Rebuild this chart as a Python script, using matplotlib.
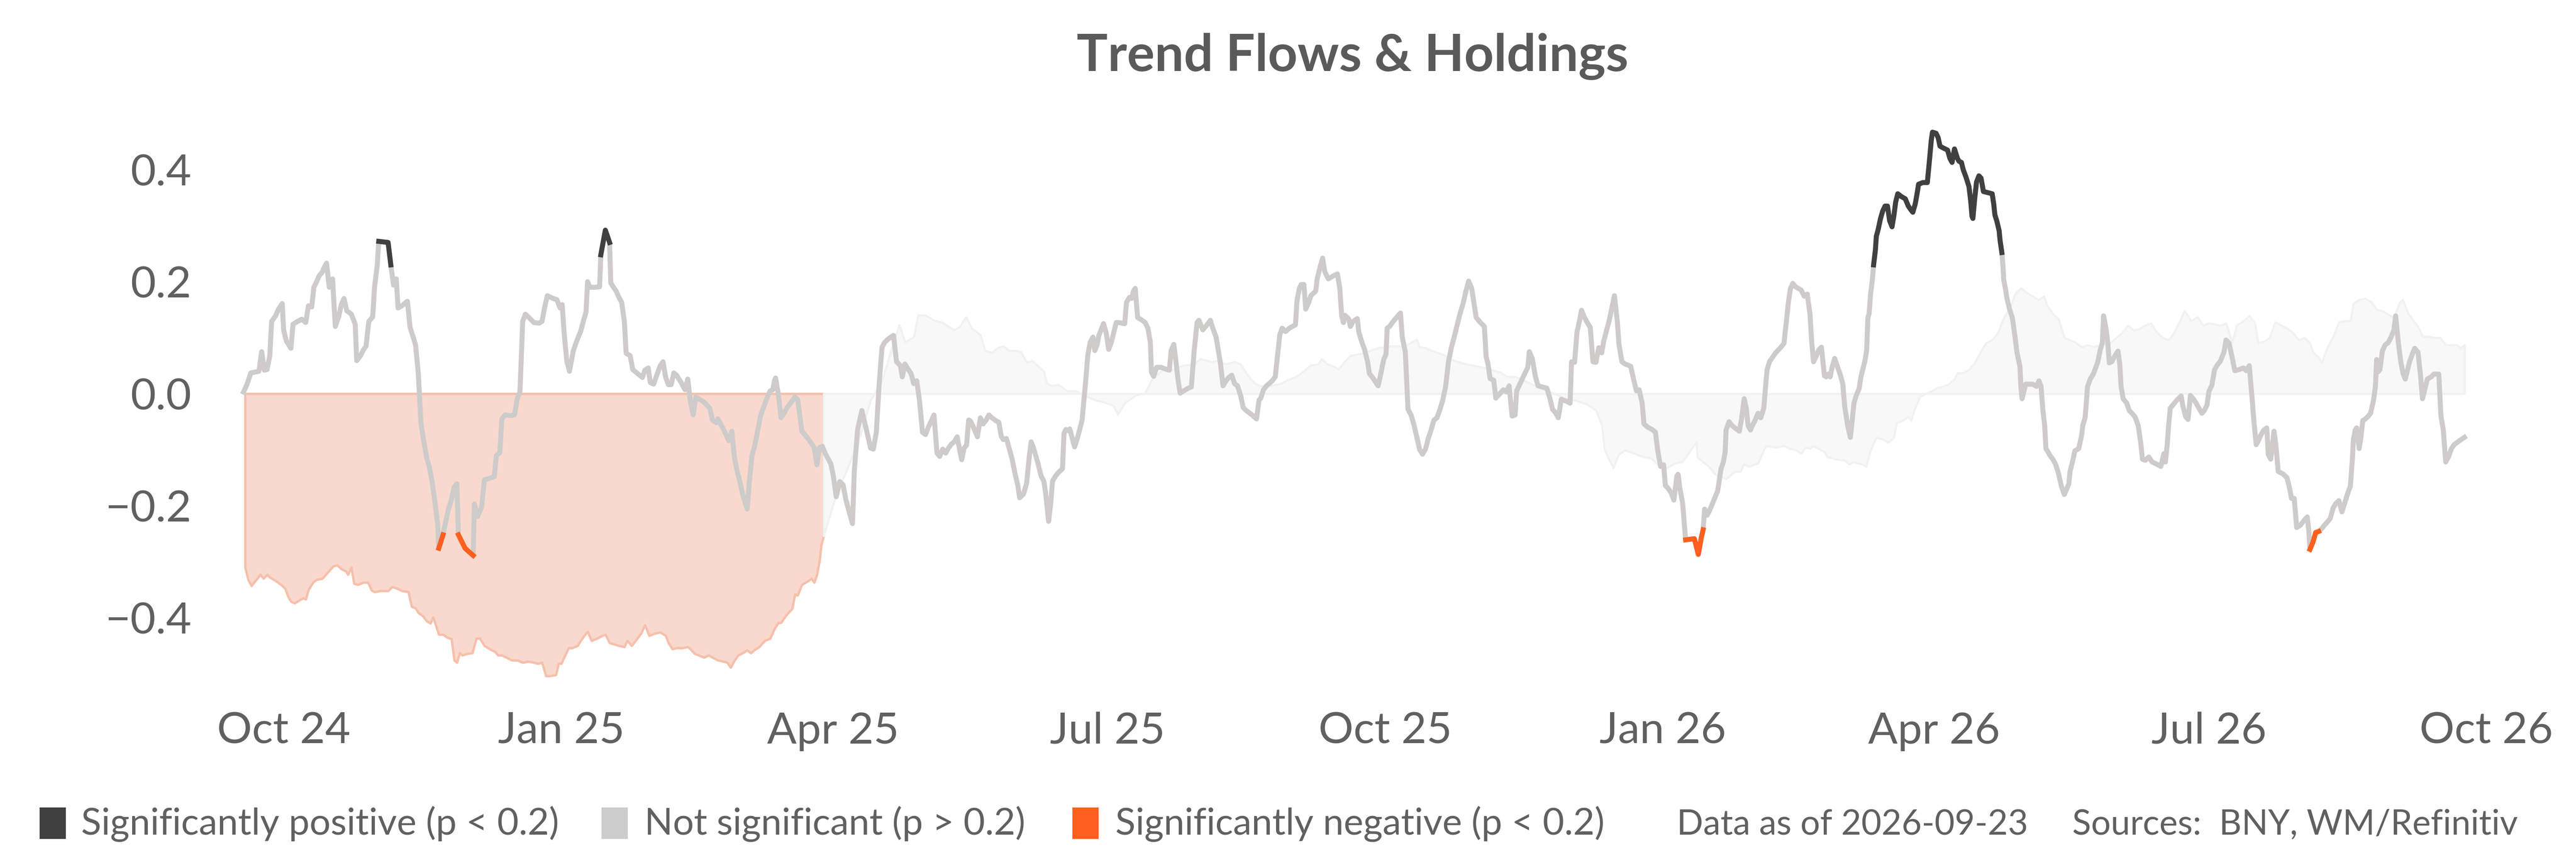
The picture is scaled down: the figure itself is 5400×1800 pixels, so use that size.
import numpy as np
import pandas as pd
import matplotlib
matplotlib.use("Agg")
import matplotlib.pyplot as plt
import matplotlib.dates as mdates
from matplotlib.patches import Rectangle

# day offsets from 2024-10-01
base_date = pd.Timestamp("2024-10-01")

# trend flows (day, value)
flows_a = [
    (-13.3, 0.003), (-12.2, 0.016), (-10.9, 0.037), (-8.2, 0.040), (-7.3, 0.075), (-6.4, 0.042), (-5.5, 0.043), (-4.6, 0.068), (-4.0, 0.129), (-2.7, 0.139),
    (-1.8, 0.150), (-0.5, 0.161), (0.0, 0.113), (0.9, 0.094), (2.4, 0.081), (3.1, 0.124), (4.6, 0.129), (6.0, 0.133), (7.3, 0.127), (8.2, 0.157),
    (9.3, 0.155), (10.0, 0.190), (10.9, 0.200), (11.8, 0.211), (12.8, 0.217), (13.3, 0.224), (14.2, 0.233), (15.1, 0.190), (16.2, 0.205), (17.1, 0.120),
    (18.2, 0.137), (19.1, 0.159), (20.0, 0.170), (20.9, 0.148), (22.4, 0.142), (23.7, 0.124), (24.2, 0.059), (25.5, 0.068), (26.4, 0.078), (27.3, 0.085),
    (28.2, 0.129), (29.5, 0.137), (30.1, 0.190), (31.0, 0.229), (31.5, 0.272), (34.6, 0.270), (35.5, 0.230), (36.4, 0.194), (37.3, 0.205), (37.9, 0.153),
    (39.2, 0.157), (41.0, 0.165), (41.9, 0.118), (42.8, 0.103), (43.7, 0.087), (44.6, 0.037), (45.5, -0.054), (46.4, -0.084), (47.4, -0.115), (48.3, -0.132),
    (49.2, -0.158), (50.1, -0.193), (51.0, -0.232), (51.4, -0.276), (52.8, -0.252), (53.7, -0.228), (54.6, -0.206), (55.6, -0.189), (56.5, -0.167), (57.4, -0.161),
    (57.9, -0.252), (60.1, -0.276), (62.8, -0.289), (63.2, -0.197), (64.3, -0.219), (65.6, -0.202), (66.5, -0.154), (68.3, -0.151), (69.8, -0.148), (70.5, -0.110),
    (71.6, -0.106), (72.3, -0.045), (73.4, -0.038), (75.2, -0.039), (76.5, -0.038), (77.4, -0.009), (78.3, 0.003), (79.2, 0.129), (80.1, 0.142), (81.1, 0.137),
    (82.9, 0.127), (84.7, 0.126), (85.6, 0.129), (86.5, 0.155), (87.4, 0.175), (89.3, 0.170), (90.5, 0.168), (91.6, 0.153), (92.3, 0.159), (92.9, 0.111),
    (93.8, 0.059), (94.7, 0.040), (96.0, 0.077), (97.1, 0.094), (98.4, 0.111), (99.3, 0.129), (100.2, 0.146), (100.7, 0.200), (101.5, 0.190), (103.3, 0.190),
    (104.7, 0.191), (105.1, 0.248), (106.6, 0.292), (108.0, 0.270), (108.4, 0.198), (109.3, 0.190), (110.2, 0.183), (111.1, 0.172), (112.0, 0.163), (112.9, 0.129),
    (113.5, 0.072), (114.8, 0.068), (115.7, 0.043), (117.5, 0.035), (118.9, 0.029), (119.7, 0.042), (120.8, 0.046), (121.5, 0.020), (122.6, 0.017), (123.9, 0.037),
    (124.8, 0.050), (125.7, 0.057), (126.6, 0.029), (127.5, 0.016), (128.4, 0.016), (129.3, 0.037), (130.2, 0.033), (131.7, 0.020), (133.0, 0.007), (133.9, 0.026),
    (134.8, -0.015), (135.7, -0.038), (136.6, -0.006), (137.5, -0.009), (139.3, -0.015), (141.2, -0.026), (142.1, -0.047), (143.4, -0.052), (143.9, -0.045), (144.8, -0.054),
    (145.7, -0.063), (146.6, -0.073), (147.5, -0.084), (148.5, -0.067), (149.4, -0.115), (150.3, -0.139), (151.2, -0.158), (152.1, -0.180), (153.6, -0.206), (154.3, -0.158),
    (155.2, -0.110), (156.1, -0.093), (157.2, -0.063), (158.1, -0.038), (159.4, -0.019), (160.3, -0.006), (161.2, 0.005), (162.1, 0.007), (162.7, 0.024), (163.0, 0.028),
    (163.9, 0.000), (164.8, -0.043), (165.8, -0.035), (166.7, -0.026), (168.1, -0.016), (169.4, -0.006), (170.3, -0.010), (171.2, -0.045), (171.7, -0.067), (173.0, -0.075),
    (174.3, -0.084), (175.8, -0.096), (176.7, -0.127), (177.6, -0.096), (178.5, -0.094), (179.4, -0.106), (180.3, -0.115), (181.3, -0.125), (182.1, -0.145), (183.1, -0.184),
    (184.3, -0.157), (185.4, -0.163), (186.3, -0.189), (187.6, -0.215), (188.5, -0.232),
]
flows_b = [
    (189.1, -0.138), (190.2, -0.064), (191.6, -0.030), (192.5, -0.051), (193.5, -0.073), (194.5, -0.097), (195.4, -0.099), (196.4, -0.069), (197.3, 0.014), (197.9, 0.057),
    (198.3, 0.083), (199.2, 0.092), (200.2, 0.097), (201.2, 0.101), (202.1, 0.104), (203.1, 0.057), (204.4, 0.050), (205.0, 0.030), (205.9, 0.053), (206.9, 0.044),
    (207.9, 0.036), (208.8, 0.018), (209.8, 0.023), (210.7, -0.012), (211.7, -0.069), (212.7, -0.073), (213.6, -0.060), (214.6, -0.049), (215.5, -0.038), (216.5, -0.106),
    (217.4, -0.112), (218.4, -0.099), (219.4, -0.106), (220.3, -0.097), (221.3, -0.090), (222.2, -0.086), (223.2, -0.077), (224.1, -0.103), (224.7, -0.118), (225.5, -0.097),
    (226.3, -0.092), (227.0, -0.047), (227.6, -0.049), (228.6, -0.060), (229.9, -0.077), (230.9, -0.043), (231.8, -0.054), (232.8, -0.047), (233.7, -0.038), (234.7, -0.043),
    (236.2, -0.049), (237.0, -0.051), (237.8, -0.076), (238.5, -0.082), (239.5, -0.080), (240.4, -0.097), (241.4, -0.117), (242.3, -0.141), (243.3, -0.164), (243.9, -0.186),
    (245.2, -0.179), (246.2, -0.160), (247.1, -0.112), (247.7, -0.086), (248.5, -0.097), (250.0, -0.125), (251.0, -0.147), (251.9, -0.156), (252.5, -0.177), (253.5, -0.228),
    (254.2, -0.195), (254.8, -0.156), (255.8, -0.147), (256.7, -0.141), (258.1, -0.134), (258.6, -0.071), (259.2, -0.064), (260.0, -0.066), (260.5, -0.063), (261.1, -0.075),
    (262.1, -0.095), (263.0, -0.080), (263.8, -0.064), (264.6, -0.047), (265.3, -0.005), (265.9, 0.030), (266.5, 0.070), (267.3, 0.092), (268.2, 0.101), (268.8, 0.077),
    (269.6, 0.088), (270.1, 0.103), (271.1, 0.117), (271.7, 0.125), (272.6, 0.108), (273.4, 0.079), (274.3, 0.092), (275.3, 0.114), (275.9, 0.127), (276.8, 0.127),
    (278.7, 0.125), (279.3, 0.163), (280.3, 0.172), (281.0, 0.170), (281.6, 0.183), (282.2, 0.188), (283.0, 0.136), (284.5, 0.131), (285.5, 0.127), (286.4, 0.117),
    (287.2, 0.092), (287.6, 0.038), (288.3, 0.031), (289.3, 0.047), (290.8, 0.047), (292.2, 0.044), (293.5, 0.042), (294.1, 0.077), (295.0, 0.088), (295.6, 0.062),
    (296.4, 0.024), (297.1, 0.001), (298.3, 0.005), (299.8, 0.010), (300.8, 0.012), (301.7, 0.075), (302.7, 0.127), (303.3, 0.131), (304.6, 0.114), (306.0, 0.123),
    (307.1, 0.131), (307.9, 0.117), (309.0, 0.101), (310.4, 0.056), (311.3, 0.014), (312.3, 0.023), (313.2, 0.029), (314.2, 0.033), (315.1, 0.018), (316.1, 0.014),
    (317.1, -0.003), (318.0, -0.025), (319.0, -0.030), (320.9, -0.038), (322.4, -0.045), (323.2, -0.012), (323.8, -0.008), (324.7, 0.007), (325.7, 0.014), (326.6, 0.018),
    (327.6, 0.023), (328.6, 0.030), (329.5, 0.075), (330.1, 0.105), (330.9, 0.117), (332.0, 0.111), (333.3, 0.117), (335.3, 0.123), (335.8, 0.166), (336.6, 0.188),
    (337.2, 0.195), (338.1, 0.195), (338.7, 0.151), (339.7, 0.163), (340.4, 0.175), (342.0, 0.183), (342.5, 0.205), (343.5, 0.227), (344.3, 0.242), (345.0, 0.218),
    (346.2, 0.205), (347.7, 0.210), (349.2, 0.214), (350.0, 0.188), (350.6, 0.140), (351.2, 0.127), (351.7, 0.140), (352.9, 0.134), (353.5, 0.120), (354.4, 0.129),
    (355.8, 0.134), (356.3, 0.110), (357.3, 0.092), (358.2, 0.079), (359.2, 0.057), (359.8, 0.036), (361.1, 0.027), (362.7, 0.014), (363.6, 0.036), (364.6, 0.062),
    (365.3, 0.070), (365.7, 0.117), (366.5, 0.120), (367.4, 0.127), (368.8, 0.136), (369.4, 0.140), (370.1, 0.144), (370.7, 0.101), (371.7, 0.075), (372.6, -0.028),
    (373.6, -0.038), (374.5, -0.054), (375.5, -0.077), (376.4, -0.099), (377.4, -0.108), (378.4, -0.099), (379.3, -0.080), (380.3, -0.064), (381.2, -0.047), (382.2, -0.043),
    (383.2, -0.028), (384.1, -0.012), (385.1, 0.014), (386.0, 0.057), (387.0, 0.083), (387.9, 0.101), (388.9, 0.123), (389.9, 0.144), (390.8, 0.160), (391.8, 0.183),
    (392.7, 0.201), (393.7, 0.188), (394.6, 0.157), (395.2, 0.136), (396.6, 0.127), (397.9, 0.120), (398.5, 0.066), (399.1, 0.053), (399.8, 0.027), (401.0, 0.024),
    (401.7, -0.008), (402.7, -0.002), (404.2, 0.007), (405.2, 0.003), (406.1, 0.014), (407.1, -0.040), (408.1, -0.038), (408.6, 0.005), (410.0, 0.021), (411.3, 0.036),
    (412.3, 0.047), (412.8, 0.075), (413.8, 0.062), (414.8, 0.031), (415.7, 0.014), (417.1, 0.012), (418.6, 0.010), (419.6, -0.008), (420.5, -0.028), (421.5, -0.034),
    (422.4, -0.043), (423.4, -0.010), (424.3, -0.012), (425.3, -0.014), (426.3, -0.017), (426.8, 0.057), (427.8, 0.056), (428.6, 0.110), (429.3, 0.127), (430.1, 0.149),
    (431.0, 0.137), (432.0, 0.127), (433.0, 0.118), (433.9, 0.057), (434.9, 0.056), (435.8, 0.082), (436.8, 0.073), (437.4, 0.092), (438.3, 0.111), (439.3, 0.131),
    (440.3, 0.157), (441.0, 0.175), (442.0, 0.127), (442.5, 0.088), (443.5, 0.057), (444.5, 0.053), (446.4, 0.049), (447.3, 0.027), (448.3, 0.005), (449.2, 0.007),
    (450.2, -0.017), (450.8, -0.054), (452.1, -0.060), (453.5, -0.064), (454.6, -0.069), (455.4, -0.103), (456.3, -0.130), (457.3, -0.127), (457.9, -0.164), (458.8, -0.169),
    (459.8, -0.177), (460.7, -0.190), (461.7, -0.147), (462.1, -0.144), (462.7, -0.169), (463.6, -0.195),
]
flows_c = [
    (464.6, -0.261), (467.5, -0.259), (468.8, -0.287), (469.8, -0.257), (470.4, -0.243), (470.9, -0.206), (471.7, -0.217), (472.5, -0.209), (473.2, -0.200), (474.2, -0.187),
    (475.2, -0.174), (475.7, -0.157), (476.3, -0.135), (477.1, -0.122), (477.7, -0.104), (478.0, -0.065), (479.0, -0.050), (480.0, -0.057), (480.9, -0.061), (482.4, -0.067),
    (483.2, -0.043), (484.0, -0.009), (484.7, -0.026), (485.3, -0.057), (486.1, -0.065), (486.7, -0.057), (487.6, -0.048), (488.6, -0.035), (489.5, -0.043), (490.5, -0.026),
    (491.1, 0.013), (491.6, 0.043), (492.4, 0.057), (493.4, 0.065), (494.3, 0.072), (495.3, 0.078), (496.2, 0.083), (497.2, 0.090), (498.1, 0.135), (498.7, 0.165),
    (499.3, 0.187), (500.1, 0.197), (501.0, 0.191), (502.9, 0.185), (503.9, 0.174), (504.9, 0.178), (505.8, 0.143), (506.4, 0.091), (507.0, 0.057), (507.7, 0.065),
    (508.7, 0.078), (509.6, 0.083), (510.6, 0.032), (511.2, 0.030), (511.9, 0.035), (512.5, 0.030), (513.1, 0.046), (514.0, 0.063), (514.8, 0.050), (515.8, 0.035),
    (516.7, 0.017), (517.3, -0.022), (518.3, -0.057), (519.2, -0.078), (519.8, -0.048), (520.4, -0.017), (521.1, -0.004), (522.1, 0.009), (522.7, 0.030), (523.2, 0.041),
    (524.0, 0.058), (524.6, 0.078), (525.0, 0.135), (525.4, 0.143), (525.9, 0.178), (526.5, 0.204), (526.9, 0.230), (527.5, 0.257), (527.8, 0.281), (528.4, 0.293),
    (529.2, 0.313), (529.9, 0.326), (530.7, 0.335), (531.5, 0.335), (532.2, 0.309), (533.0, 0.298), (533.6, 0.317), (534.2, 0.342), (534.9, 0.357), (536.1, 0.352),
    (537.4, 0.348), (538.4, 0.335), (539.3, 0.328), (539.9, 0.324), (540.7, 0.339), (541.3, 0.357), (541.8, 0.374), (543.2, 0.377), (544.7, 0.377), (545.5, 0.422),
    (546.0, 0.452), (546.4, 0.467), (547.6, 0.465), (548.3, 0.457), (548.9, 0.442), (549.9, 0.439), (551.4, 0.435), (552.2, 0.420), (552.9, 0.413), (553.7, 0.437),
    (554.7, 0.420), (555.2, 0.415), (556.0, 0.413), (556.6, 0.400), (557.5, 0.387), (558.5, 0.370), (559.1, 0.343), (559.5, 0.317), (559.8, 0.313), (560.4, 0.348),
    (561.0, 0.378), (561.8, 0.389), (562.5, 0.385), (563.3, 0.361), (564.8, 0.359), (566.2, 0.357), (566.7, 0.339), (567.1, 0.319), (567.7, 0.309), (568.5, 0.291),
    (568.8, 0.274), (569.4, 0.252), (569.8, 0.226), (570.0, 0.204), (570.6, 0.187), (571.1, 0.170), (571.9, 0.152), (572.9, 0.135), (573.8, 0.100), (574.4, 0.074),
    (575.4, 0.048), (575.7, 0.013), (576.1, -0.009), (576.7, 0.004), (577.3, 0.017), (579.6, 0.017), (580.9, 0.013), (581.7, 0.023), (582.4, 0.013), (583.0, -0.030),
    (583.6, -0.057), (584.0, -0.098), (584.7, -0.104), (585.3, -0.110), (586.3, -0.117), (587.2, -0.126), (588.2, -0.143), (589.1, -0.165), (589.7, -0.174), (590.1, -0.180),
    (590.9, -0.170), (591.6, -0.161), (592.0, -0.139), (593.0, -0.117), (593.6, -0.102), (594.9, -0.098), (595.9, -0.072), (596.2, -0.057), (597.0, -0.043), (597.8, 0.013),
    (598.7, 0.026), (599.7, 0.035), (600.6, 0.048), (601.2, 0.057), (602.0, 0.078), (602.7, 0.091), (603.1, 0.139), (603.9, 0.117), (604.5, 0.091), (605.0, 0.055),
    (605.8, 0.057), (606.8, 0.067), (607.9, 0.076), (608.5, 0.052), (608.9, 0.013), (609.6, -0.009), (610.8, -0.017), (611.6, -0.030), (612.5, -0.035), (613.5, -0.041),
    (614.6, -0.057), (615.4, -0.087), (616.0, -0.117), (616.9, -0.119), (618.1, -0.113), (619.2, -0.122), (620.8, -0.126), (622.1, -0.130), (623.1, -0.107), (623.6, -0.122),
    (624.2, -0.091), (624.6, -0.061), (625.2, -0.026), (626.1, -0.020), (627.5, -0.011), (628.8, -0.004), (629.4, -0.022), (630.3, -0.041), (631.1, -0.046), (631.9, -0.003),
    (632.8, -0.009), (633.8, -0.017), (634.7, -0.026), (635.7, -0.035), (636.5, -0.030), (637.4, -0.020), (638.0, 0.004), (639.0, 0.015), (639.9, 0.043), (640.9, 0.052),
    (641.8, 0.058), (643.0, 0.074), (643.7, 0.096), (644.7, 0.090), (645.7, 0.065), (646.6, 0.041), (648.0, 0.043), (649.5, 0.046), (650.4, 0.041), (651.4, 0.050),
    (652.4, -0.013), (652.9, -0.048), (653.7, -0.091), (654.5, -0.083), (655.2, -0.074), (656.2, -0.065), (657.2, -0.061), (657.7, -0.109), (658.5, -0.117), (659.6, -0.067),
    (660.2, -0.091), (661.0, -0.139), (662.5, -0.143), (663.9, -0.150), (664.8, -0.170), (665.4, -0.187), (666.3, -0.187), (667.1, -0.239), (668.3, -0.235), (669.6, -0.226),
    (670.6, -0.220), (671.1, -0.243), (671.5, -0.278), (672.5, -0.265), (673.4, -0.248), (674.4, -0.246), (675.4, -0.241), (676.3, -0.235), (677.3, -0.229), (678.2, -0.223),
    (679.2, -0.204), (680.1, -0.196), (681.1, -0.191), (682.1, -0.211), (683.0, -0.196), (684.0, -0.178), (684.9, -0.165), (685.5, -0.122), (685.9, -0.083), (686.5, -0.065),
    (687.0, -0.061), (687.8, -0.098), (688.4, -0.078), (689.0, -0.048), (689.7, -0.046), (690.7, -0.041), (691.6, -0.035), (692.6, -0.011), (693.2, 0.013), (693.6, 0.061),
    (694.1, 0.039), (694.7, 0.043), (695.5, 0.076), (696.4, 0.087), (697.4, 0.091), (698.3, 0.100), (699.3, 0.113), (699.9, 0.139), (700.8, 0.091), (701.6, 0.057),
    (702.4, 0.035), (703.1, 0.026), (703.7, 0.039), (704.5, 0.057), (705.4, 0.070), (706.2, 0.081), (707.3, 0.074), (708.1, 0.035), (708.8, -0.009), (709.8, 0.013),
    (710.4, 0.026), (711.7, 0.030), (712.6, 0.035), (714.2, 0.035), (714.9, -0.039), (715.7, -0.065), (716.5, -0.122), (717.4, -0.113), (718.4, -0.098), (719.3, -0.091),
    (720.3, -0.087), (721.3, -0.083), (722.7, -0.078),
]

# trend holdings (day, value): first stretch significantly negative, rest not significant
holdings_sig = [
    (-12.8, -0.310), (-11.8, -0.332), (-10.7, -0.343), (-9.1, -0.332), (-7.7, -0.323), (-6.7, -0.330), (-5.5, -0.323), (-4.6, -0.328), (-2.7, -0.334), (-0.9, -0.341),
    (0.5, -0.348), (1.5, -0.363), (2.4, -0.371), (3.6, -0.374), (5.1, -0.369), (6.4, -0.365), (7.3, -0.367), (8.2, -0.350), (9.7, -0.337), (10.9, -0.332),
    (12.8, -0.330), (14.6, -0.319), (16.4, -0.308), (17.7, -0.306), (19.1, -0.313), (20.6, -0.317), (21.3, -0.323), (22.4, -0.310), (23.3, -0.339), (24.6, -0.341),
    (26.4, -0.337), (27.9, -0.337), (29.1, -0.351), (30.1, -0.354), (31.9, -0.352), (34.6, -0.352), (35.9, -0.345), (37.3, -0.347), (39.2, -0.352), (41.3, -0.354),
    (42.4, -0.380), (43.7, -0.383), (44.6, -0.391), (46.1, -0.397), (47.4, -0.406), (48.6, -0.410), (49.5, -0.399), (50.5, -0.415), (51.4, -0.430), (52.8, -0.430),
    (54.1, -0.435), (55.6, -0.438), (56.5, -0.476), (57.4, -0.480), (58.3, -0.463), (59.2, -0.467), (61.0, -0.464), (62.5, -0.463), (63.8, -0.437), (65.0, -0.437),
    (66.5, -0.450), (68.3, -0.456), (70.1, -0.461), (71.0, -0.467), (72.3, -0.467), (73.8, -0.471), (75.6, -0.476), (77.4, -0.476), (79.2, -0.480), (81.1, -0.478),
    (82.9, -0.480), (84.3, -0.482), (85.6, -0.480), (86.9, -0.504), (88.3, -0.504), (90.2, -0.502), (91.1, -0.482), (92.0, -0.482), (92.9, -0.471), (94.4, -0.454),
    (95.6, -0.454), (97.4, -0.450), (98.4, -0.441), (99.6, -0.432), (100.7, -0.425), (102.0, -0.441), (103.8, -0.437), (105.6, -0.432), (106.6, -0.430), (108.0, -0.445),
    (109.3, -0.447), (111.1, -0.450), (112.9, -0.452), (113.8, -0.441), (115.3, -0.450), (116.6, -0.441), (118.4, -0.428), (119.7, -0.413), (121.1, -0.432), (123.0, -0.428),
    (124.8, -0.426), (126.6, -0.432), (127.5, -0.445), (128.8, -0.456), (130.2, -0.454), (132.1, -0.454), (133.9, -0.452), (134.8, -0.456), (136.1, -0.464), (137.5, -0.467),
    (139.3, -0.471), (140.8, -0.467), (142.1, -0.471), (143.9, -0.476), (145.7, -0.478), (147.0, -0.480), (148.1, -0.489), (149.4, -0.476), (150.6, -0.467), (152.1, -0.463),
    (153.6, -0.458), (154.8, -0.463), (156.1, -0.457), (157.6, -0.452), (159.4, -0.441), (161.2, -0.437), (162.7, -0.419), (163.9, -0.409), (164.8, -0.409), (166.3, -0.397),
    (167.6, -0.389), (168.5, -0.384), (169.4, -0.358), (170.3, -0.360), (171.7, -0.341), (173.6, -0.335), (174.9, -0.330), (175.8, -0.337), (176.7, -0.323), (177.6, -0.297),
    (178.1, -0.271), (178.9, -0.254),
]
holdings_ns = [
    (178.9, -0.254), (183.1, -0.180), (186.8, -0.134), (190.6, -0.082), (194.5, -0.012), (198.3, 0.023), (202.1, 0.092), (204.0, 0.123), (205.9, 0.092), (208.8, 0.101),
    (210.2, 0.140), (212.7, 0.140), (215.5, 0.131), (218.4, 0.127), (220.3, 0.120), (222.2, 0.114), (224.1, 0.120), (226.1, 0.137), (228.0, 0.117), (230.9, 0.105),
    (232.4, 0.077), (234.7, 0.073), (236.6, 0.082), (238.5, 0.085), (240.4, 0.077), (242.3, 0.077), (244.3, 0.075), (246.2, 0.056), (248.1, 0.059), (250.0, 0.049),
    (251.9, 0.040), (252.9, 0.018), (254.8, 0.014), (256.7, 0.016), (259.6, 0.005), (262.5, 0.005), (265.3, -0.003), (269.2, -0.012), (271.1, -0.014), (274.9, -0.021),
    (276.4, -0.037), (278.7, -0.017), (282.6, -0.002), (285.5, 0.001), (287.4, 0.023), (289.3, 0.033), (291.2, 0.042), (294.1, 0.042), (297.9, 0.050), (301.7, 0.053),
    (303.7, 0.062), (307.5, 0.057), (309.4, 0.059), (312.3, 0.053), (315.1, 0.057), (317.1, 0.053), (319.0, 0.036), (320.9, 0.023), (321.9, 0.018), (323.8, 0.014),
    (326.6, 0.014), (330.5, 0.018), (332.4, 0.024), (335.3, 0.030), (338.1, 0.040), (340.0, 0.050), (342.9, 0.053), (343.9, 0.062), (345.8, 0.053), (347.7, 0.049),
    (349.6, 0.044), (351.5, 0.057), (353.5, 0.068), (355.4, 0.070), (358.2, 0.073), (361.1, 0.079), (363.0, 0.082), (365.0, 0.083), (366.9, 0.085), (368.8, 0.085),
    (370.7, 0.085), (372.6, 0.088), (375.5, 0.097), (376.4, 0.083), (378.4, 0.082), (380.3, 0.077), (384.1, 0.070), (387.9, 0.059), (391.8, 0.053), (395.6, 0.049),
    (399.4, 0.044), (403.3, 0.038), (405.2, 0.031), (408.1, 0.030), (410.9, 0.024), (414.8, 0.014), (418.6, 0.005), (422.4, -0.003), (424.3, -0.008), (428.2, -0.012),
    (432.0, -0.019), (434.9, -0.030), (436.8, -0.056), (437.7, -0.099), (438.7, -0.112), (440.6, -0.132), (442.5, -0.108), (444.5, -0.101), (447.3, -0.106), (450.2, -0.112),
    (453.1, -0.115), (455.0, -0.125), (457.9, -0.134), (460.7, -0.125), (463.6, -0.121), (466.5, -0.099), (468.1, -0.086), (468.5, -0.113), (470.4, -0.122), (472.3, -0.130),
    (474.2, -0.143), (476.1, -0.148), (478.0, -0.152), (479.0, -0.148), (480.9, -0.139), (482.8, -0.139), (483.8, -0.126), (485.7, -0.130), (488.6, -0.124), (490.5, -0.100),
    (491.4, -0.093), (494.3, -0.096), (497.2, -0.093), (499.1, -0.098), (501.0, -0.100), (502.9, -0.107), (504.3, -0.096), (505.8, -0.098), (506.8, -0.093), (508.7, -0.098),
    (510.6, -0.104), (511.6, -0.113), (514.4, -0.117), (517.3, -0.119), (518.8, -0.126), (520.2, -0.122), (523.1, -0.126), (524.4, -0.130), (525.9, -0.100), (527.8, -0.078),
    (529.8, -0.081), (531.7, -0.087), (533.6, -0.078), (534.5, -0.052), (536.5, -0.048), (538.4, -0.041), (539.3, -0.048), (540.3, -0.030), (542.2, -0.006), (544.1, 0.000),
    (546.0, 0.004), (548.0, 0.011), (549.9, 0.013), (551.8, 0.017), (553.7, 0.026), (554.7, 0.037), (556.6, 0.037), (558.5, 0.043), (560.4, 0.055), (562.3, 0.074),
    (564.2, 0.091), (566.2, 0.096), (568.1, 0.109), (570.0, 0.135), (571.9, 0.152), (573.8, 0.178), (575.7, 0.189), (577.7, 0.180), (579.6, 0.174), (581.5, 0.168),
    (583.4, 0.174), (584.4, 0.157), (586.3, 0.143), (588.2, 0.133), (590.1, 0.100), (592.0, 0.096), (593.9, 0.091), (595.9, 0.083), (597.8, 0.087), (599.7, 0.084),
    (602.6, 0.087), (605.4, 0.091), (607.3, 0.100), (609.3, 0.109), (611.2, 0.122), (613.1, 0.113), (615.0, 0.116), (616.9, 0.122), (618.8, 0.126), (620.8, 0.109),
    (622.7, 0.100), (624.6, 0.096), (626.5, 0.109), (628.4, 0.130), (629.9, 0.148), (632.2, 0.130), (634.2, 0.137), (636.1, 0.122), (638.0, 0.126), (639.9, 0.124),
    (641.8, 0.122), (643.7, 0.126), (645.7, 0.091), (647.2, 0.122), (649.5, 0.130), (651.4, 0.139), (653.3, 0.126), (654.3, 0.091), (656.2, 0.093), (658.1, 0.100),
    (660.0, 0.128), (662.0, 0.122), (663.9, 0.117), (665.8, 0.109), (667.7, 0.096), (669.6, 0.100), (671.5, 0.091), (672.5, 0.074), (674.4, 0.065), (675.4, 0.055),
    (677.3, 0.083), (679.2, 0.102), (681.1, 0.128), (683.0, 0.130), (684.9, 0.130), (685.9, 0.161), (687.8, 0.168), (689.7, 0.170), (692.0, 0.163), (693.6, 0.150),
    (695.5, 0.148), (697.4, 0.142), (699.3, 0.135), (701.2, 0.163), (702.2, 0.168), (704.1, 0.143), (707.0, 0.122), (708.9, 0.102), (710.8, 0.102), (712.7, 0.100),
    (714.6, 0.100), (716.5, 0.087), (718.5, 0.087), (720.4, 0.087), (721.3, 0.081), (722.7, 0.087),
]

# significance windows of the flow line (day ranges)
pos_periods = [(31.5, 35.5), (105.1, 108.0), (526.9, 569.4)]
neg_periods = [(51.4, 52.8), (57.9, 62.8), (464.6, 470.4), (671.5, 674.4)]

legend_labels = ["Significantly positive (p < 0.2)", "Not significant (p > 0.2)", "Significantly negative (p < 0.2)"]
legend_colors = ["#404040", "#cccccc", "#ff5f1f"]
footer_date = "Data as of 2026-09-23"
footer_sources = "Sources:  BNY, WM/Refinitiv"

plt.rcParams["font.family"] = ["Lato", "DejaVu Sans"]
text_color = "#606060"


def to_dates(days):
    return base_date + pd.to_timedelta(np.asarray(days), unit="D")


flows = flows_a + flows_b + flows_c
flow_days = np.array([p[0] for p in flows])
flow_vals = np.array([p[1] for p in flows])
flow_dates = to_dates(flow_days)

fig = plt.figure(figsize=(18, 6), dpi=300)
ax = fig.add_axes([0.0867, 0.1822, 0.8844, 0.6853])

# holdings shading
hs_d = to_dates([p[0] for p in holdings_sig])
hs_v = [p[1] for p in holdings_sig]
ax.fill_between(hs_d, 0, hs_v, facecolor="#f9d9ce", edgecolor="#f6c0ac", linewidth=1.2, zorder=1)
hn_d = to_dates([p[0] for p in holdings_ns])
hn_v = [p[1] for p in holdings_ns]
ax.fill_between(hn_d, 0, hn_v, facecolor="#f8f8f8", edgecolor="#f1f1f1", linewidth=1.0, zorder=1)

# flow line, then significant stretches on top
lw = 2.5
ax.plot(flow_dates, flow_vals, color="#cdcccb", lw=lw, zorder=3)
for a, b in pos_periods:
    m = (flow_days >= a) & (flow_days <= b)
    ax.plot(flow_dates[m], flow_vals[m], color="#404040", lw=lw, zorder=4)
for a, b in neg_periods:
    m = (flow_days >= a) & (flow_days <= b)
    ax.plot(flow_dates[m], flow_vals[m], color="#ff5f1f", lw=lw, zorder=4)

ax.set_xlim(to_dates([-20])[0], to_dates([735])[0])
ax.set_ylim(-0.55, 0.5)
ax.set_yticks([-0.4, -0.2, 0.0, 0.2, 0.4])
ax.yaxis.set_major_formatter(matplotlib.ticker.FuncFormatter(lambda v, p: f"{v:.1f}".replace("-", "\u2212")))
ax.set_xticks(pd.date_range("2024-10-01", "2026-10-01", freq="3MS"))
ax.xaxis.set_major_formatter(mdates.DateFormatter("%b %y"))
ax.tick_params(axis="both", length=0, labelsize=22, labelcolor=text_color)
ax.tick_params(axis="x", pad=5)
ax.tick_params(axis="y", pad=16)
for s in ax.spines.values():
    s.set_visible(False)

fig.text(2835 / 5400, 1 - 118 / 1800, "Trend Flows & Holdings", ha="center", va="center",
         fontsize=26, fontweight="bold", color="#5a5a5a")

# legend row along the bottom
rect_x = [83, 1261, 2248]
text_x = [170, 1351, 2338]
for rx, tx, lab, col in zip(rect_x, text_x, legend_labels, legend_colors):
    fig.patches.append(Rectangle((rx / 5400, 40 / 1800), 55 / 5400, 66 / 1800,
                                 transform=fig.transFigure, facecolor=col, edgecolor="none"))
    fig.text(tx / 5400, 49 / 1800, lab, ha="left", va="baseline", fontsize=18.7, color=text_color)
fig.text(3515 / 5400, 49 / 1800, footer_date, ha="left", va="baseline", fontsize=17.5, color=text_color)
fig.text(4344 / 5400, 49 / 1800, footer_sources, ha="left", va="baseline", fontsize=17.5, color=text_color)

fig.savefig("out.png", dpi=300, facecolor="white")
